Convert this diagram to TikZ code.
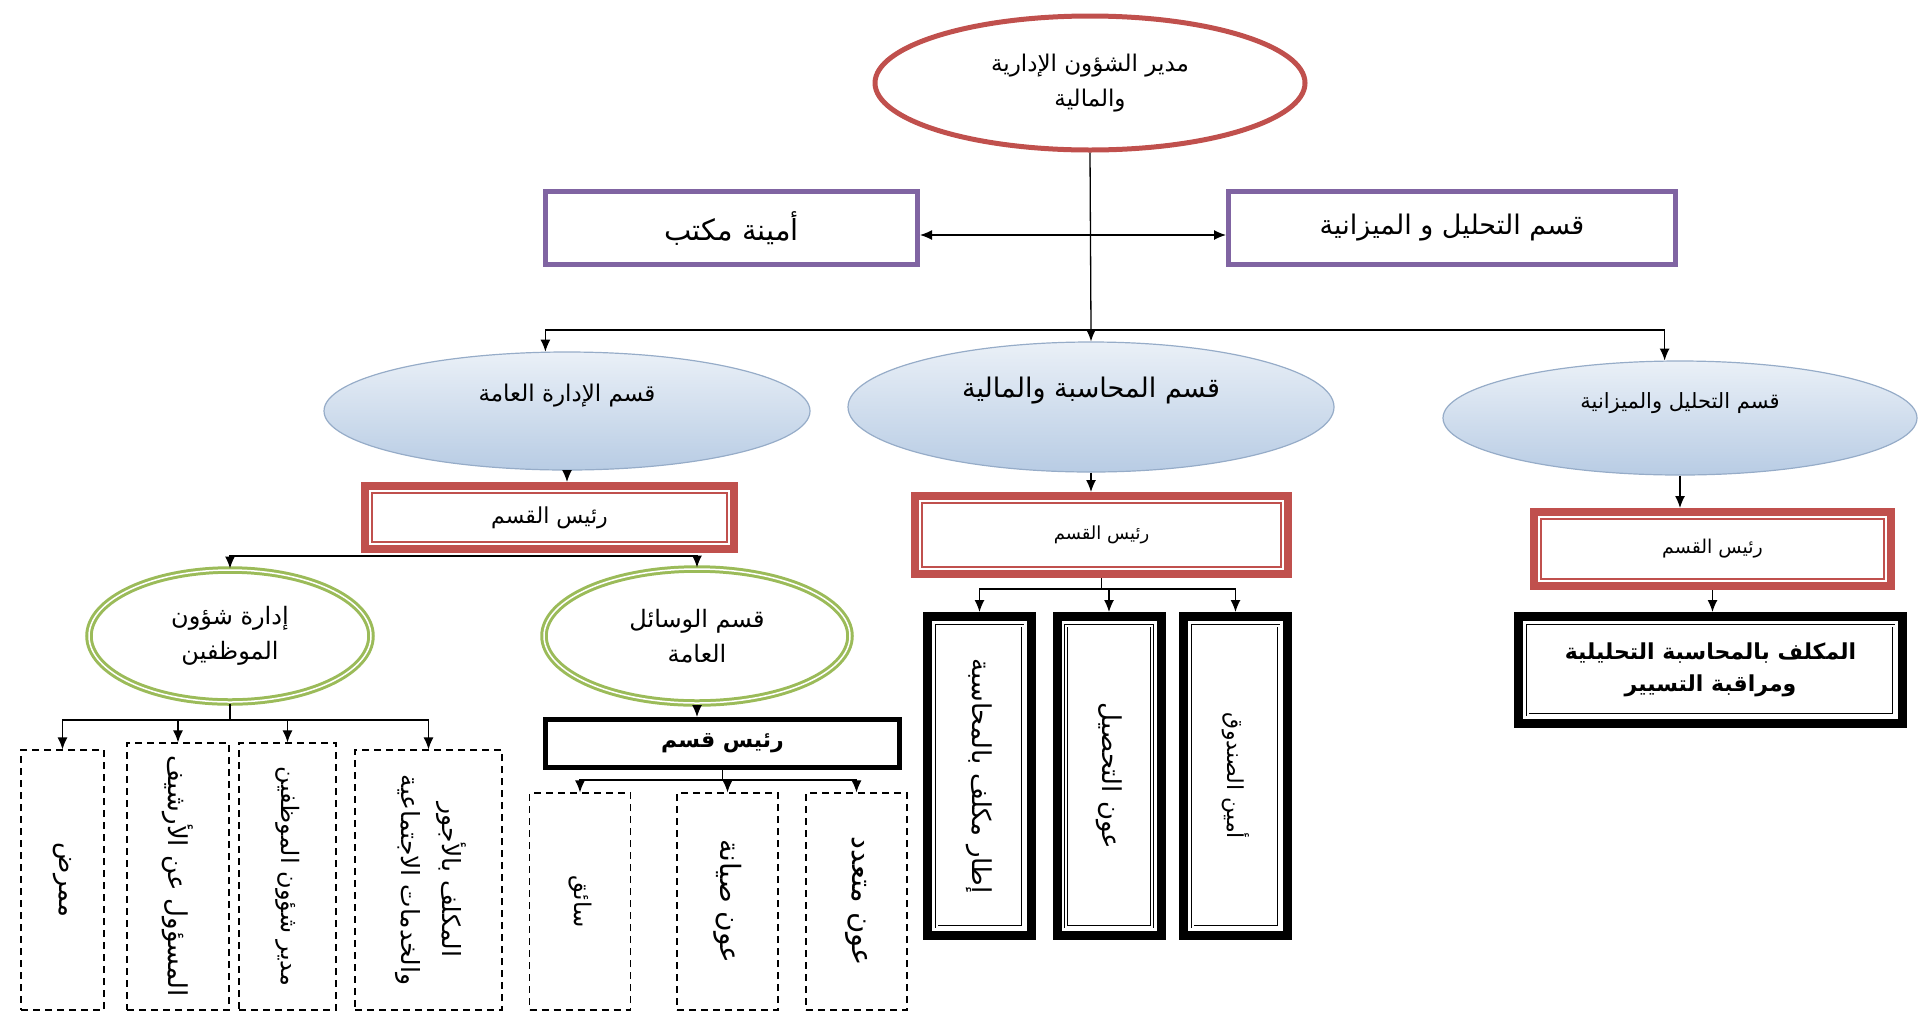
\documentclass[tikz,border=0pt]{standalone}
\usepackage{fontspec}
\usetikzlibrary{arrows.meta}
\usetikzlibrary{shapes.geometric}
\TeXXeTstate=1
\newfontfamily\arabicfont[Script=Arabic]{DejaVu Sans}
\newcommand{\artxt}[1]{\beginR #1\endR}
\definecolor{mpurple}{RGB}{128,100,162}
\definecolor{mred}{RGB}{192,80,77}
\definecolor{mgreen}{RGB}{155,187,89}
\definecolor{mblue}{RGB}{150,172,200}
\definecolor{mbluetop}{RGB}{234,240,247}
\definecolor{mbluebot}{RGB}{184,204,228}
\tikzset{
  arr/.style = {-{Latex[length = 12pt, width = 10pt]}, line width = 1.3pt},
  arrboth/.style = {{Latex[length = 12pt, width = 10pt]}-{Latex[length = 12pt, width = 10pt]}, line width = 1.3pt},
  fs/.style = {font = \arabicfont\fontsize{#1}{35}\selectfont},
  fsb/.style = {font = \arabicfont\bfseries\fontsize{#1}{32}\selectfont},
  lbl/.style = {fs = 20, align = center},
  topell/.style = {lbl, ellipse, draw = mred, line width = 5pt, inner sep = 0},
  purbox/.style = {lbl, draw = mpurple, line width = 5pt},
  blueell/.style = {lbl, ellipse, draw = mblue, line width = 1.2pt, top color = mbluetop,
    bottom color = mbluebot, text height = 16pt, text depth = 36pt},
  redbox/.style = {lbl, draw = mred, line width = 8pt,
    path picture = {\draw [mred, line width = 1.5pt]
      ([shift = {(7pt, -7pt)}] path picture bounding box.north west) rectangle
      ([shift = {(-7pt, 7pt)}] path picture bounding box.south east);}},
  greenell/.style = {lbl, ellipse, draw = mgreen, line width = 3pt, double = white,
    double distance = 1.5pt, inner sep = 0},
  blkbox/.style = {lbl, draw, line width = 5pt},
  tribox/.style = {lbl, draw, line width = 9pt,
    path picture = {\draw [line width = 0.8pt, double, double distance = 2pt]
      ([shift = {(9pt, -9pt)}] path picture bounding box.north west) rectangle
      ([shift = {(-9pt, 9pt)}] path picture bounding box.south east);}},
  dashbox/.style = {lbl, draw, line width = 1.2pt, dash pattern = on 7pt off 5pt}
}

\begin{document}
\begin{tikzpicture}[x = 1pt, y = -1pt]
  \useasboundingbox (0, 0) rectangle (1919, 1013);

  \node [topell, fs = 23, minimum width = 430pt, minimum height = 134pt] (dir) at (1090, 83)
    {\artxt{مدير الشؤون الإدارية}\\\artxt{والمالية}};
  \node [purbox, fs = 29, minimum width = 372pt, minimum height = 73pt] (sec) at (731.5, 228)
    {\artxt{أمينة مكتب}};
  \node [purbox, fs = 27, minimum width = 447pt, minimum height = 73pt] (anal) at (1452, 228)
    {\artxt{قسم التحليل و الميزانية}};

  \node [blueell, fs = 23, minimum width = 486pt, minimum height = 118pt] (dgen) at (567, 411)
    {\artxt{قسم الإدارة العامة}};
  \node [blueell, fs = 27, minimum width = 486pt, minimum height = 130pt] (dfin) at (1091, 407)
    {\artxt{قسم المحاسبة والمالية}};
  \node [blueell, fs = 21, minimum width = 474pt, minimum height = 114pt] (dbud) at (1680, 418)
    {\artxt{قسم التحليل والميزانية}};

  \node [redbox, fs = 22, minimum width = 369pt, minimum height = 63pt] (h1) at (549.5, 517.5)
    {\artxt{رئيس القسم}};
  \node [redbox, fs = 18, minimum width = 373pt, minimum height = 78pt] (h2) at (1101.5, 535)
    {\artxt{رئيس القسم}};
  \node [redbox, fs = 19, minimum width = 357pt, minimum height = 74pt] (h3) at (1712.5, 549)
    {\artxt{رئيس القسم}};

  \node [greenell, fs = 24, minimum width = 282pt, minimum height = 132pt] (gstaff) at (230, 636)
    {\artxt{إدارة شؤون}\\\artxt{الموظفين}};
  \node [greenell, fs = 24, minimum width = 306pt, minimum height = 134pt] (gmeans) at (697, 636)
    {\artxt{قسم الوسائل}\\\artxt{العامة}};

  \node [blkbox, fsb = 22, minimum width = 354pt, minimum height = 48pt] (rb) at (722.5, 743.5)
    {\artxt{رئيس قسم}};
  \node [tribox, fsb = 22, minimum width = 384pt, minimum height = 107pt] (kr) at (1710.5, 670)
    {\artxt{المكلف بالمحاسبة التحليلية}\\\artxt{ومراقبة التسيير}};

  \node [dashbox, fs = 26, minimum width = 83pt, minimum height = 260pt] (e1) at (62.5, 880)
    {\rotatebox{-90}{\artxt{ممرض}}};
  \node [dashbox, fs = 26, minimum width = 102pt, minimum height = 267pt] (e2) at (178, 876.5)
    {\rotatebox{-90}{\artxt{المسؤول عن الأرشيف}}};
  \node [dashbox, fs = 24, minimum width = 97pt, minimum height = 267pt] (e3) at (287.5, 876.5)
    {\rotatebox{-90}{\artxt{مدير شؤون الموظفين}}};
  \node [dashbox, fs = 25, minimum width = 147pt, minimum height = 260pt] (e4) at (428.5, 880)
    {\rotatebox{-90}{\begin{tabular}{@{}c@{}}\artxt{المكلف بالأجور}\\[6pt]\artxt{والخدمات الاجتماعية}\end{tabular}}};

  \foreach \nm/\x/\sz/\txt in {s1/580/23/{سائق}, s2/727.5/28/{عون صيانة}, s3/856.5/29/{عون متعدد}} {
    \node [dashbox, fs = \sz, minimum width = 101pt, minimum height = 217pt] (\nm) at (\x, 901.5)
      {\rotatebox{-90}{\artxt{\txt}}};
  }
  \foreach \nm/\x/\sz/\txt in {k1/979.5/26/{إطار مكلف بالمحاسبة}, k2/1109/26/{عون التحصيل}, k3/1235.5/22/{أمين الصندوق}} {
    \node [tribox, fs = \sz, minimum width = 104pt, minimum height = 319pt] (\nm) at (\x, 776)
      {\rotatebox{-90}{\artxt{\txt}}};
  }

  \coordinate (hub) at (1091, 330);
  \draw [line width = 1.3pt] (dir.south) -- (hub);
  \draw [arrboth] ([yshift = -7pt] sec.east) -- ([yshift = -7pt] anal.west);
  \draw [arr] (hub) -- (dfin.north);
  \draw [arr] (hub) -| (dgen.110);
  \draw [arr] (hub) -| (dbud.105);

  \draw [arr] (dgen.south) -- (dgen.south |- h1.north);
  \draw [arr] (dfin.south) -- (dfin.south |- h2.north);
  \draw [arr] (dbud.south) -- (dbud.south |- h3.north);
  \draw [arr] (h3.south) -- (h3.south |- kr.north);

  \coordinate (hb) at (549.5, 556);
  \draw [arr] (hb) -| (gstaff.north);
  \draw [arr] (hb) -| (gmeans.north);

  \coordinate (sb) at (230, 720);
  \draw [line width = 1.3pt] (gstaff.south) -- (sb);
  \foreach \nm in {e1, e2, e3, e4} {
    \draw [arr] (sb) -| (\nm.north);
  }

  \draw [arr] (gmeans.south) -- (gmeans.south |- rb.north);
  \coordinate (mb) at (722.5, 780);
  \draw [line width = 1.3pt] (rb.south) -- (mb);
  \foreach \nm in {s1, s2, s3} {
    \draw [arr] (mb) -| (\nm.north);
  }

  \coordinate (kb) at (1101.5, 589);
  \draw [line width = 1.3pt] (h2.south) -- (kb);
  \foreach \nm in {k1, k2, k3} {
    \draw [arr] (kb) -| (\nm.north);
  }
\end{tikzpicture}
\end{document}
